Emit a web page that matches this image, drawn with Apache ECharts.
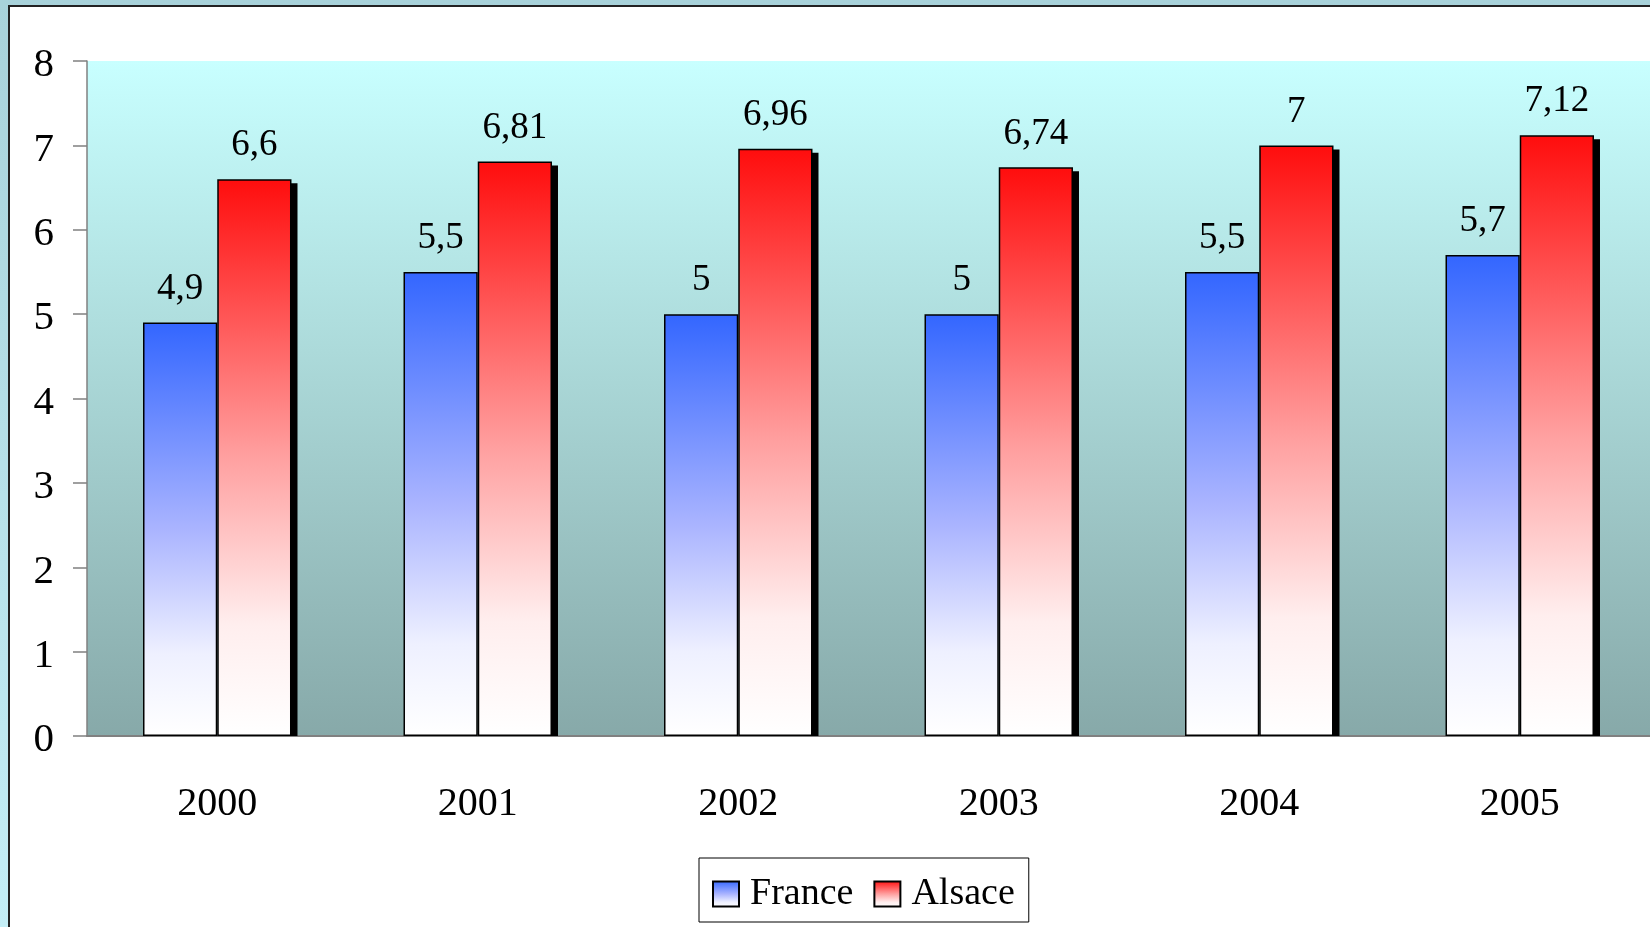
<!DOCTYPE html>
<html><head><meta charset="utf-8">
<script src="https://cdn.jsdelivr.net/npm/echarts@6/dist/echarts.min.js"></script>
<style>html,body{margin:0;padding:0;}#c{width:1650px;height:927px;}</style>
</head><body><div id="c"></div>
<script>
const categories = ['2000','2001','2002','2003','2004','2005'];
const franceValues = [4.9, 5.5, 5, 5, 5.5, 5.7];
const alsaceValues = [6.6, 6.81, 6.96, 6.74, 7, 7.12];
const seriesNames = ['France','Alsace'];
const yTicks = {min: 0, max: 8, interval: 1};

const FONT = 'Liberation Serif';
const CAT_GAP = 0.43;
const grad = (c0, c1, c2) => ({type:'linear', x:0, y:0, x2:0, y2:1, colorStops:[
  {offset:0, color:c0},{offset:0.5, color:c1},{offset:0.8, color:c2},{offset:1, color:'#ffffff'}]});
const fmt = p => String(p.value).replace('.', ',');

const chart = echarts.init(document.getElementById('c'));
chart.setOption({
  animation: false,
  backgroundColor: {type:'linear', x:0, y:0, x2:0, y2:1, colorStops:[{offset:0,color:'#a8d2da'},{offset:1,color:'#c4eef6'}]},
  graphic: [{type:'rect', z:-10, shape:{x:9, y:6, width:1700, height:1000}, style:{fill:'#ffffff', stroke:'#222222', lineWidth:2}}],
  grid: {left: 87, top: 61, right: 0, bottom: 191, show: true, borderWidth: 0,
    backgroundColor: {type:'linear', x:0, y:0, x2:0, y2:1, colorStops:[{offset:0,color:'#c8ffff'},{offset:1,color:'#87a9a9'}]}},
  xAxis: {type:'category', data: categories,
    axisLine:{lineStyle:{color:'#808080', width:2}},
    axisTick:{length:13, lineStyle:{color:'#000', width:1.5}},
    axisLabel:{fontFamily:FONT, fontSize:40, color:'#000', margin:48}},
  yAxis: {type:'value', min: yTicks.min, max: yTicks.max, interval: yTicks.interval,
    splitLine:{show:false},
    axisLine:{show:true, lineStyle:{color:'#808080', width:1.5}},
    axisTick:{show:true, length:14, lineStyle:{color:'#808080', width:1.5}},
    axisLabel:{margin:33, formatter: v => '{a|' + v + '}',
      rich:{a:{fontFamily:FONT, fontSize:41, color:'#000', padding:[9,0,0,0]}}}},
  legend: {left: 699, top: 858, orient:'horizontal', icon:'rect', itemWidth: 26, itemHeight: 25, itemGap: 20,
    padding:[17,14,9,13], borderColor:'#000', borderWidth:1, backgroundColor:'#fff',
    textStyle:{fontFamily:FONT, fontSize:38, color:'#000', padding:[0,0,0,6]},
    data: seriesNames},
  series: [
    {name: 'shadow', type:'custom', data: alsaceValues.map((v, i) => [i, v]), z: 1, silent: true,
      encode: {x: 0, y: 1},
      renderItem: (params, api) => {
        const idx = api.value(0);
        const v = api.value(1);
        const top = api.coord([idx, v]);
        const base = api.coord([idx, 0]);
        const band = api.size([1, 0])[0];
        const w = band * (1 - CAT_GAP) / 2;
        return {type:'rect', shape:{x: top[0] + 6, y: top[1] + 4, width: w, height: base[1] - top[1] - 4},
          style:{fill:'#000'}};
      }},
    {name: seriesNames[0], type:'bar', data: franceValues, barGap:'0%', barCategoryGap: (CAT_GAP*100)+'%', z: 3,
      itemStyle:{color: grad('#3366ff','#aab4ff','#eef0ff'), borderColor:'#000', borderWidth:1.5},
      label:{show:true, position:'top', distance:15, formatter: fmt, fontFamily:FONT, fontSize:37, color:'#000'}},
    {name: seriesNames[1], type:'bar', data: alsaceValues, barGap:'0%', barCategoryGap: (CAT_GAP*100)+'%', z: 3,
      itemStyle:{color: grad('#ff0d0d','#ffa0a0','#ffeeee'), borderColor:'#000', borderWidth:1.5},
      label:{show:true, position:'top', distance:15, formatter: fmt, fontFamily:FONT, fontSize:37, color:'#000'}}
  ]
});
</script></body></html>
